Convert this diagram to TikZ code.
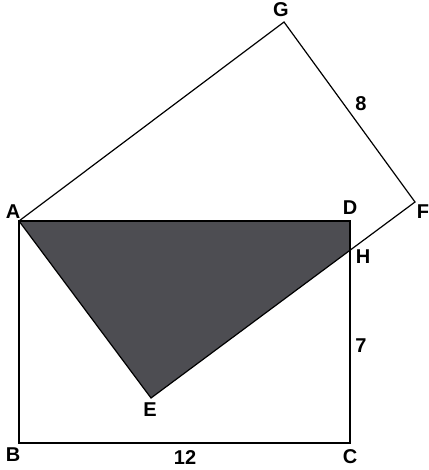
\documentclass[tikz,border=0pt]{standalone}
\usepackage{fontspec}
\setmainfont{Liberation Sans}
\usepackage{tikz}
\definecolor{regiongray}{RGB}{77,77,82}

\begin{document}
\begin{tikzpicture}[x=1pt,y=-1pt,line width=1.2pt,
    lbl/.style={font=\fontsize{20}{24}\selectfont\bfseries,inner sep=0pt}]
    \useasboundingbox (0,0) rectangle (428,470);
    % points
    \coordinate (A) at (19,221);
    \coordinate (B) at (19,443);
    \coordinate (C) at (350,443);
    \coordinate (D) at (350,221);
    \coordinate (E) at (151,398);
    \coordinate (F) at (415,202);
    \coordinate (G) at (284,22);
    \coordinate (H) at (350,250.3);
    \fill[regiongray] (A) -- (D) -- (H) -- (E) -- cycle;
    \draw[line width=1.5pt] (A) -- (B) -- (C) -- (D) -- cycle;
    \draw (A) -- (E) -- (F) -- (G) -- cycle;
    \node[lbl] (lA) at (13,212) {A};
    \node[lbl] (lB) at (13,455) {B};
    \node[lbl] (lC) at (350,457) {C};
    \node[lbl] (lD) at (350,208) {D};
    \node[lbl] (lE) at (150,410) {E};
    \node[lbl] (lF) at (423,212) {F};
    \node[lbl] (lG) at (281,10) {G};
    \node[lbl] (lH) at (363,257) {H};
    \node[lbl] (l8) at (361,104) {8};
    \node[lbl] (l7) at (361,346) {7};
    \node[lbl] (l12) at (185,458) {12};
\end{tikzpicture}
\end{document}
